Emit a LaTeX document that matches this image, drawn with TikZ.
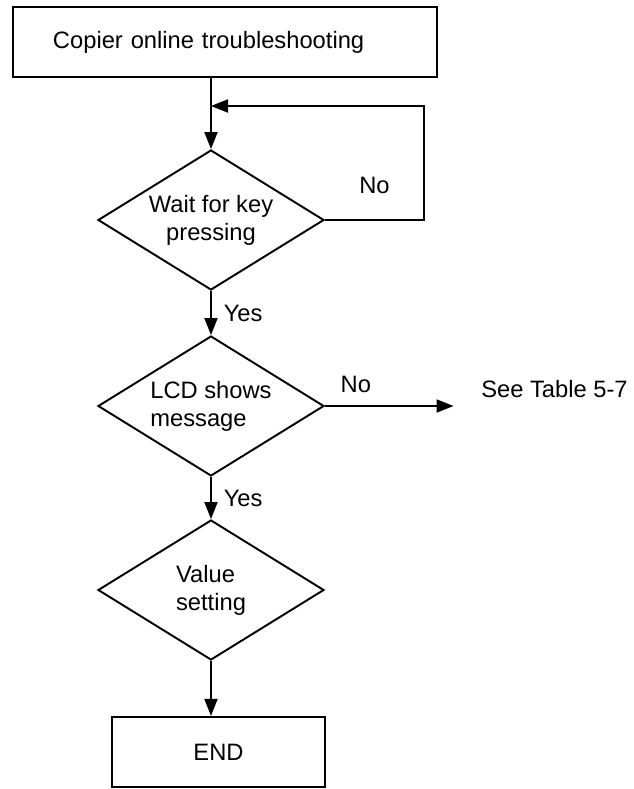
\documentclass[tikz,border=0pt]{standalone}
\usepackage{fontspec}
\setmainfont{Liberation Sans}
\usetikzlibrary{shapes.geometric,arrows.meta}

\begin{document}
\begin{tikzpicture}[
	every node/.style={font=\fontsize{13.5pt}{16pt}\selectfont},
	arr/.style={line width=1.1pt,-{Triangle[length=3.4mm,width=2.6mm]}},
	procbox/.style={draw,line width=1.3pt,rectangle,minimum height=1.4cm},
	decision/.style={draw,line width=1.1pt,diamond,aspect=1.6,inner sep=0pt,minimum width=4.52cm,minimum height=2.8cm}
]
	\useasboundingbox (0,0) rectangle (12.66,-15.78);
	% boxes and decisions down the main line
	\node[procbox,text width=6.88cm,inner xsep=0.8cm,align=left] (start) at (4.5,-0.84) {Copier online troubleshooting};
	\node[decision,align=center] (wait) at (4.22,-4.40) {Wait for key\\pressing};
	\node[decision,align=left] (lcd) at (4.22,-8.12) {LCD shows\\message};
	\node[decision,align=left] (value) at (4.22,-11.80) {Value\\setting};
	\node[procbox,minimum width=4.26cm] (end) at (4.37,-15.04) {END};
	\node (table) at (11.09,-7.78) {See Table 5-7};
	\coordinate (loop) at (8.48,-2.12);
	\coordinate (tableend) at (9.07,-8.12);

	\draw[arr] (start.south -| wait.north) -- (wait.north);
	% key not pressed: go round again
	\draw[arr] (wait.east) -- node[above,yshift=0.39cm] {No} (wait.east -| loop) -- (loop) -- (loop -| wait.north);
	\draw[arr] (wait.south) -- node[right,xshift=0.12cm] {Yes} (lcd.north);
	\draw[arr] (lcd.east) -- node[above,pos=0.24,yshift=0.13cm] {No} (tableend);
	\draw[arr] (lcd.south) -- node[right,xshift=0.12cm] {Yes} (value.north);
	\draw[arr] (value.south) -- (value.south |- end.north);
\end{tikzpicture}
\end{document}
